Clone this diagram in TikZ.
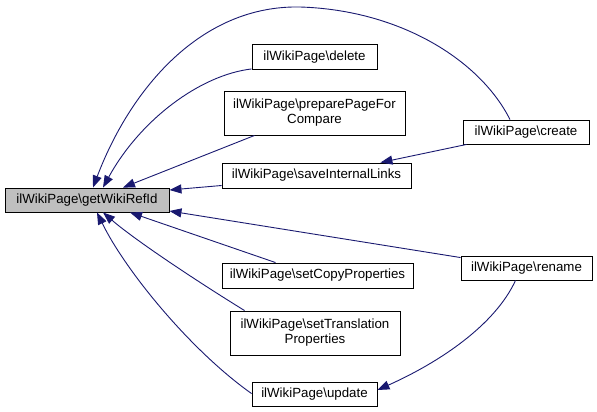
\documentclass[tikz,border=0pt]{standalone}
\usepackage{fontspec}
\setmainfont{Liberation Sans}
\usetikzlibrary{arrows.meta}
\definecolor{edgeblue}{HTML}{191970}
\definecolor{mainfill}{HTML}{BFBFBF}
\begin{document}
\begin{tikzpicture}[x=1pt,y=-1pt,
  fn/.style={draw=black,line width=0.9pt,inner sep=0pt,align=center,
    font=\fontsize{13.3}{15}\selectfont},
  callee/.style={draw=edgeblue,line width=0.9pt,
    -{Triangle[length=12pt,width=9pt]}}]
\useasboundingbox (0,0) rectangle (597,412);
\node[fn,fill=mainfill,minimum width=164pt,minimum height=24pt] (main) at (87,200) {ilWikiPage\textbackslash getWikiRefId};
\node[fn,minimum width=125pt,minimum height=25pt] (delete) at (314.5,57) {ilWikiPage\textbackslash delete};
\node[fn,minimum width=181pt,minimum height=44pt] (prepare) at (314.5,113) {ilWikiPage\textbackslash preparePageFor\\Compare};
\node[fn,minimum width=189pt,minimum height=25pt] (save) at (316.5,175.5) {ilWikiPage\textbackslash saveInternalLinks};
\node[fn,minimum width=191pt,minimum height=25pt] (copy) at (317.5,275.5) {ilWikiPage\textbackslash setCopyProperties};
\node[fn,minimum width=170pt,minimum height=44pt] (trans) at (315,333) {ilWikiPage\textbackslash setTranslation\\Properties};
\node[fn,minimum width=125pt,minimum height=24pt] (update) at (314.5,394) {ilWikiPage\textbackslash update};
\node[fn,minimum width=126pt,minimum height=24pt] (create) at (526,132) {ilWikiPage\textbackslash create};
\node[fn,minimum width=131pt,minimum height=24pt] (rename) at (526.5,268) {ilWikiPage\textbackslash rename};
% edges
\draw[callee] ([xshift=-16pt]create.north) .. controls (480,60) and (400,10) .. (300,7)
  .. controls (200,5) and (130,90) .. ([xshift=6pt]main.north);
\draw[callee] ([yshift=1pt]delete.south west) .. controls (200,75) and (140,120) .. ([xshift=16pt]main.north);
\draw[callee] ([xshift=31pt]prepare.south west) -- ([xshift=36pt]main.north);
\draw[callee] ([yshift=-10pt]save.west) -- ([yshift=10pt]main.east);
\draw[callee] ([xshift=4pt]create.south west) -- ([xshift=-31pt]save.north east);
\draw[callee] ([yshift=-2pt]rename.north west) -- ([yshift=-11pt]main.east);
\draw[callee] ([xshift=-11pt]rename.south) .. controls (495,325) and (440,362) .. ([yshift=4pt]update.east);
\draw[callee] ([xshift=-42pt]copy.north) -- ([xshift=43pt]main.south);
\draw[callee] ([xshift=15pt]trans.north west) .. controls (195,280) and (135,240) .. ([xshift=16pt]main.south);
\draw[callee] ([yshift=-12pt]update.north west) .. controls (190,350) and (125,270) .. ([xshift=10pt]main.south);
\end{tikzpicture}
\end{document}
